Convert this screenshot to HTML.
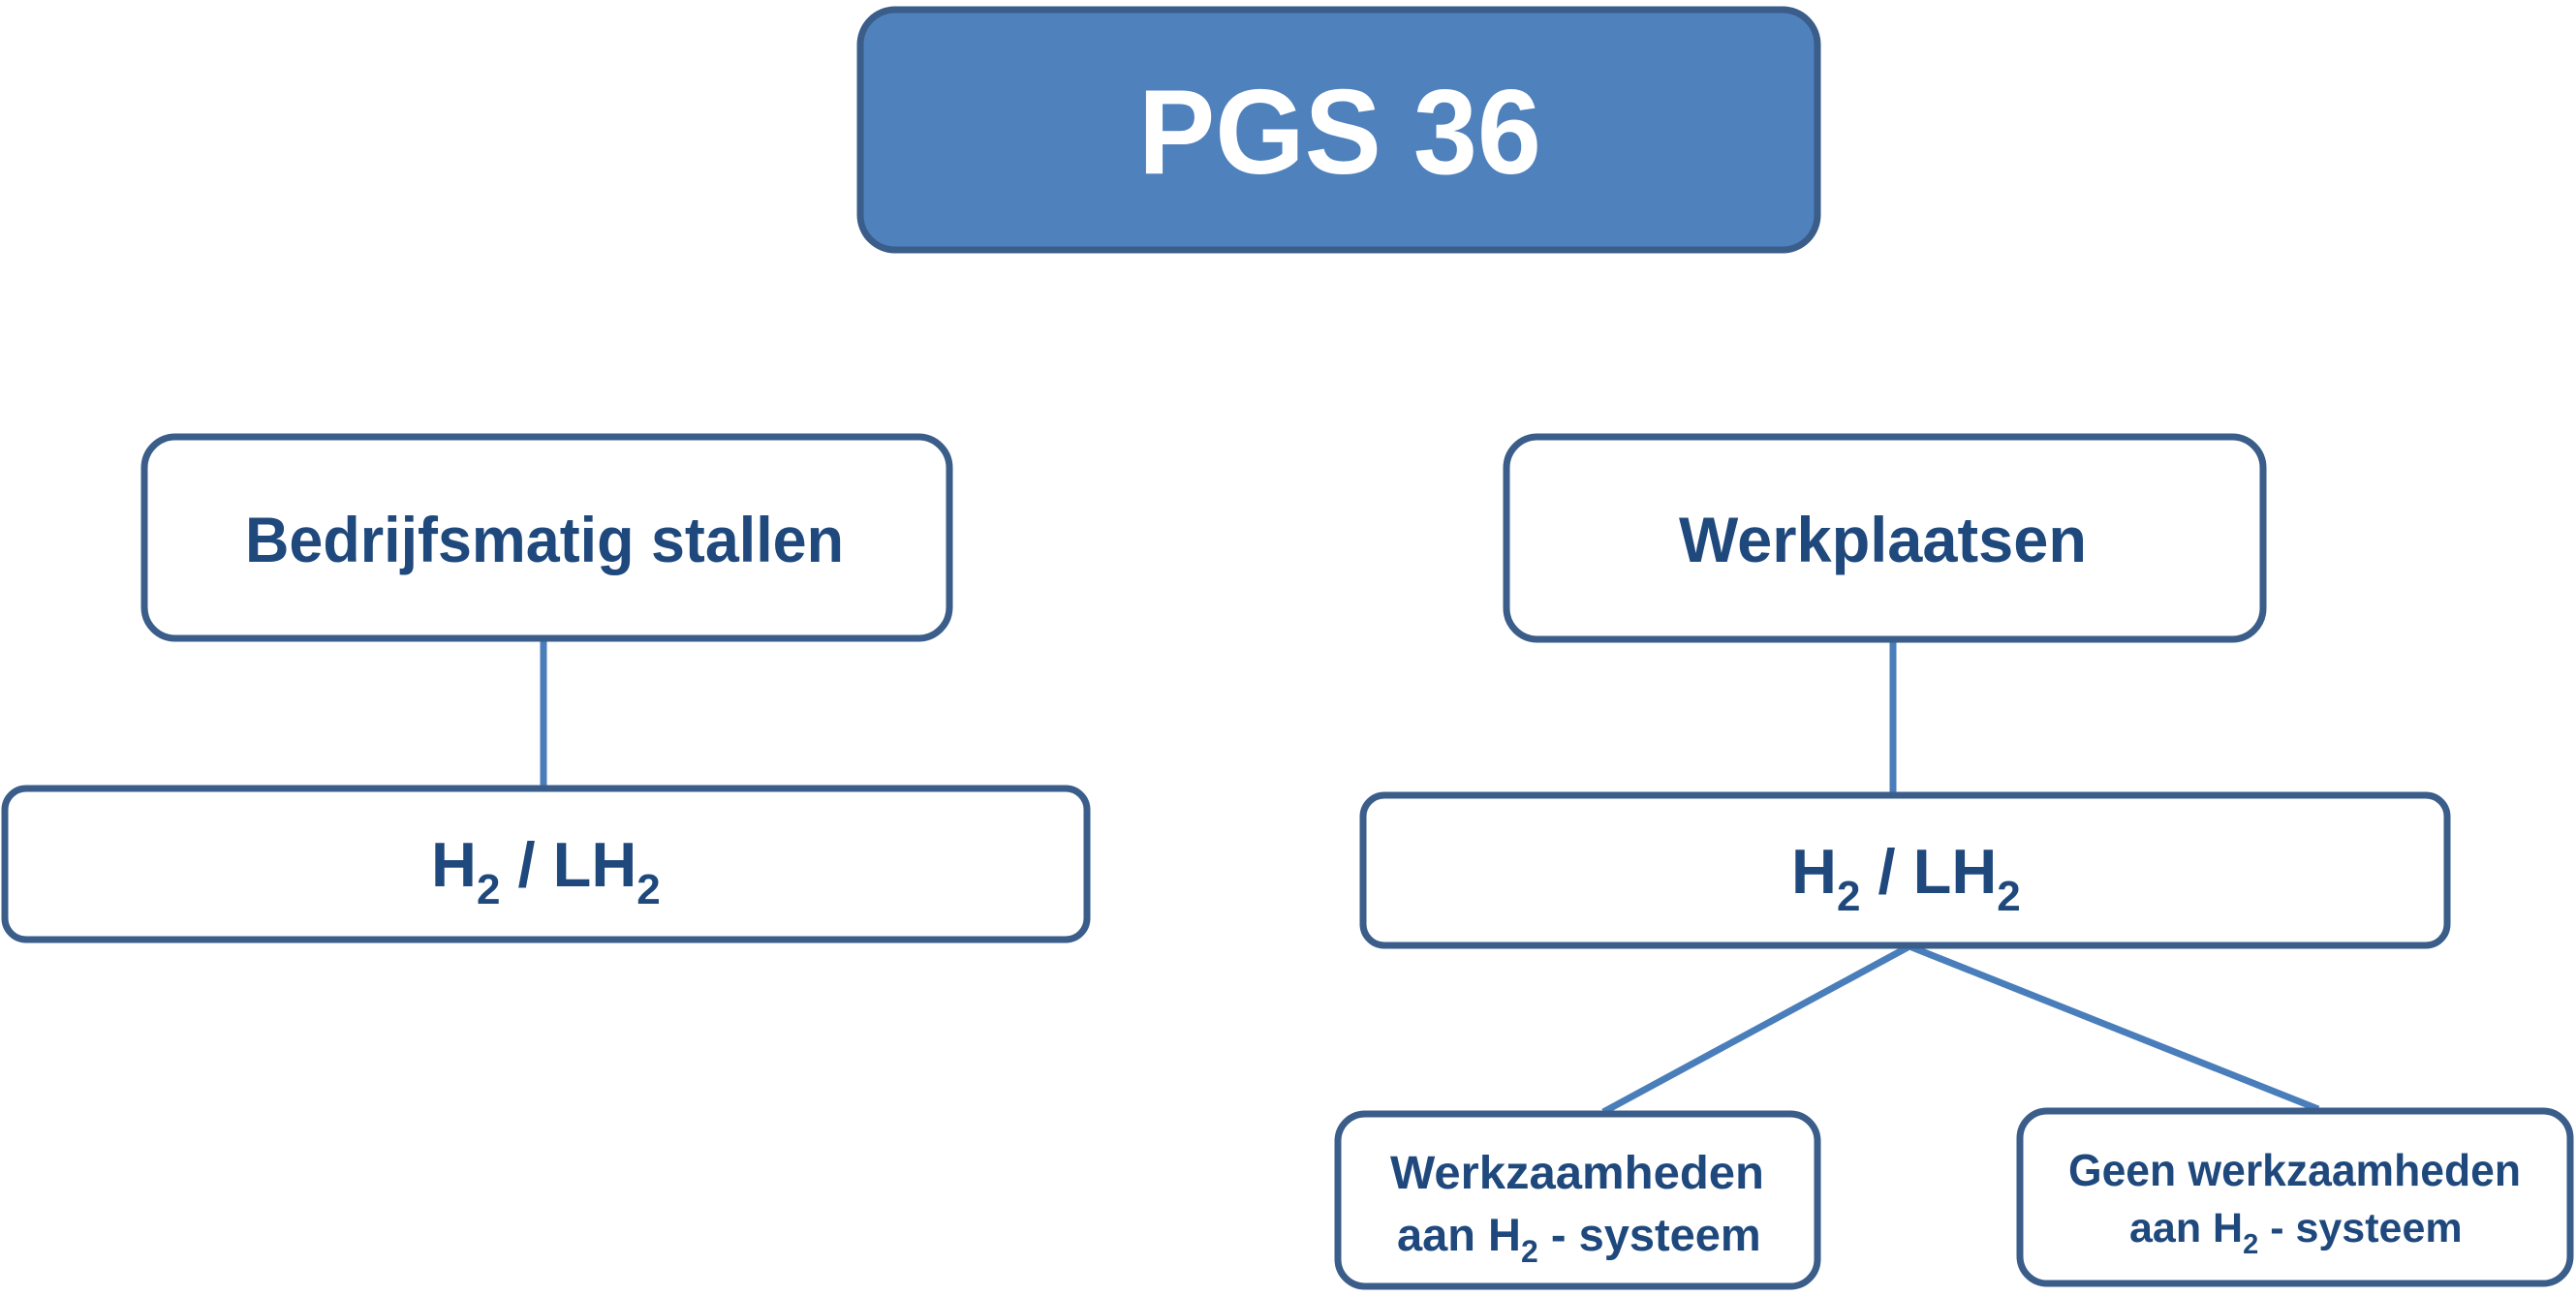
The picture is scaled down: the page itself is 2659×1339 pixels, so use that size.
<!DOCTYPE html>
<html><head><meta charset="utf-8"><style>
html,body{margin:0;padding:0;background:#fff;}
svg{display:block;}
text{font-family:"Liberation Sans",sans-serif;font-weight:bold;}
</style></head><body>
<svg width="2659" height="1339" viewBox="0 0 2659 1339" xmlns="http://www.w3.org/2000/svg">
<g stroke="#4A7EBB" stroke-width="7" fill="none">
<line x1="561" y1="660" x2="561" y2="812"/>
<line x1="1954" y1="661" x2="1954" y2="819"/>
<line x1="1971" y1="977" x2="1655" y2="1148"/>
<line x1="1971" y1="977" x2="2393" y2="1145"/>
</g>
<g stroke="#3A5D8A" stroke-width="7">
<rect x="888" y="10" width="988" height="248" rx="36" fill="#4F81BD"/>
<rect x="149" y="451" width="831" height="208" rx="32" fill="#fff"/>
<rect x="1555" y="451" width="781" height="209" rx="32" fill="#fff"/>
<rect x="5" y="814" width="1117" height="156" rx="22" fill="#fff"/>
<rect x="1407" y="821" width="1119" height="155" rx="22" fill="#fff"/>
<rect x="1381" y="1150" width="495" height="178" rx="28" fill="#fff"/>
<rect x="2085" y="1147" width="568" height="178" rx="28" fill="#fff"/>
</g>
<text x="1175" y="179" font-size="124" fill="#fff" textLength="416" lengthAdjust="spacingAndGlyphs">PGS 36</text>
<g fill="#1F497D">
<text x="253" y="580" font-size="66" textLength="618" lengthAdjust="spacingAndGlyphs">Bedrijfsmatig stallen</text>
<text x="1733" y="580" font-size="66" textLength="421" lengthAdjust="spacingAndGlyphs">Werkplaatsen</text>
<text x="445" y="915" font-size="65">H<tspan font-size="44" dy="18">2</tspan><tspan dy="-18"> / LH</tspan><tspan font-size="44" dy="18">2</tspan></text>
<text x="1849" y="922" font-size="65">H<tspan font-size="44" dy="18">2</tspan><tspan dy="-18"> / LH</tspan><tspan font-size="44" dy="18">2</tspan></text>
<text x="1435" y="1227" font-size="48" textLength="386" lengthAdjust="spacingAndGlyphs">Werkzaamheden</text>
<text x="1442" y="1291" font-size="47">aan H<tspan font-size="32" dy="12">2</tspan><tspan dy="-12"> - systeem</tspan></text>
<text x="2135" y="1224" font-size="46" textLength="467" lengthAdjust="spacingAndGlyphs">Geen werkzaamheden</text>
<text x="2198" y="1282" font-size="43">aan H<tspan font-size="29" dy="12">2</tspan><tspan dy="-12"> - systeem</tspan></text>
</g>
</svg>
</body></html>
